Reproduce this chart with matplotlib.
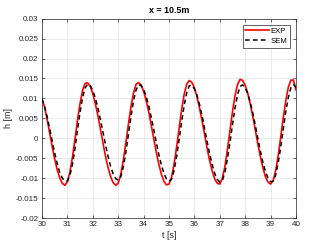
import numpy as np
import matplotlib
matplotlib.use("Agg")
import matplotlib.pyplot as plt

plt.rcParams['font.family'] = ['Liberation Sans', 'DejaVu Sans']

# time axis, 0.1 s steps from 30 to 40
t = np.round(np.arange(300, 401) / 10.0, 1)

h_exp = [
    0.0098, 0.0079, 0.0048, 0.0014, -0.0020, -0.0052, -0.0079, -0.0100, -0.0113, -0.0118,
    -0.0109, -0.0085, -0.0047, -0.0001, 0.0046, 0.0088, 0.0121, 0.0138, 0.0139, 0.0130,
    0.0112, 0.0087, 0.0057, 0.0023, -0.0011, -0.0045, -0.0073, -0.0096, -0.0111, -0.0118,
    -0.0113, -0.0091, -0.0056, -0.0012, 0.0034, 0.0078, 0.0113, 0.0135, 0.0140, 0.0133,
    0.0118, 0.0095, 0.0067, 0.0033, -0.0001, -0.0035, -0.0065, -0.0090, -0.0108, -0.0117,
    -0.0115, -0.0098, -0.0065, -0.0022, 0.0026, 0.0073, 0.0111, 0.0136, 0.0145, 0.0140,
    0.0127, 0.0105, 0.0076, 0.0045, 0.0010, -0.0025, -0.0056, -0.0082, -0.0102, -0.0113,
    -0.0115, -0.0100, -0.0071, -0.0029, 0.0019, 0.0067, 0.0107, 0.0135, 0.0148, 0.0145,
    0.0133, 0.0113, 0.0086, 0.0055, 0.0020, -0.0015, -0.0047, -0.0075, -0.0097, -0.0110,
    -0.0115, -0.0106, -0.0081, -0.0043, 0.0004, 0.0052, 0.0095, 0.0129, 0.0146, 0.0146,
    0.0121,
]

# SEM simulation
h_sem = [
    0.0099, 0.0080, 0.0055, 0.0025, -0.0006, -0.0037, -0.0064, -0.0086, -0.0100, -0.0107,
    -0.0107, -0.0093, -0.0065, -0.0025, 0.0021, 0.0066, 0.0103, 0.0127, 0.0136, 0.0132,
    0.0120, 0.0101, 0.0076, 0.0047, 0.0016, -0.0016, -0.0045, -0.0070, -0.0089, -0.0101,
    -0.0105, -0.0097, -0.0072, -0.0036, 0.0008, 0.0053, 0.0093, 0.0121, 0.0134, 0.0133,
    0.0123, 0.0105, 0.0082, 0.0053, 0.0022, -0.0010, -0.0041, -0.0067, -0.0088, -0.0102,
    -0.0108, -0.0103, -0.0081, -0.0046, -0.0003, 0.0042, 0.0084, 0.0115, 0.0132, 0.0133,
    0.0124, 0.0108, 0.0085, 0.0057, 0.0025, -0.0008, -0.0039, -0.0066, -0.0088, -0.0103,
    -0.0110, -0.0106, -0.0086, -0.0052, -0.0011, 0.0035, 0.0076, 0.0110, 0.0130, 0.0134,
    0.0127, 0.0112, 0.0090, 0.0063, 0.0032, -0.0001, -0.0033, -0.0061, -0.0084, -0.0100,
    -0.0109, -0.0108, -0.0092, -0.0061, -0.0021, 0.0024, 0.0068, 0.0103, 0.0127, 0.0135,
    0.0128,
]

xticks = list(range(30, 41))
yticks = [-0.02, -0.015, -0.01, -0.005, 0, 0.005, 0.01, 0.015, 0.02, 0.025, 0.03]
ytick_labels = ['-0.02', '-0.015', '-0.01', '-0.005', '0', '0.005', '0.01',
                '0.015', '0.02', '0.025', '0.03']

ax_col = '#262626'

fig = plt.figure(figsize=(3.27, 2.45), dpi=100)
ax = fig.add_axes([0.1284, 0.1102, 0.7768, 0.8135])

ax.plot(t, h_exp, color='#ff0000', linewidth=1.2, label='EXP')
ax.plot(t, h_sem, color='black', linestyle=(0, (3, 2.2)), linewidth=1.1, label='SEM')

ax.set_xlim(30, 40)
ax.set_ylim(-0.02, 0.03)
ax.set_xticks(xticks)
ax.set_yticks(yticks)
ax.set_yticklabels(ytick_labels)
ax.grid(True, color='#e3e3e3', linewidth=0.5)
ax.set_axisbelow(True)

ax.tick_params(direction='in', length=2.5, width=0.5, top=True, right=True,
               labelsize=5.8, colors=ax_col, pad=2.5)
for s in ax.spines.values():
    s.set_color(ax_col)
    s.set_linewidth(0.5)

ax.set_title('x = 10.5m', fontsize=6.4, fontweight='bold', pad=4)
ax.set_xlabel('t [s]', fontsize=6.4, color=ax_col, labelpad=1.5)
ax.set_ylabel('h [m]', fontsize=6.4, color=ax_col, labelpad=2)

leg = ax.legend(loc='upper right', fontsize=5.6, handlelength=3.0, handletextpad=0.2,
                borderpad=0.35, labelspacing=0.3, fancybox=False, framealpha=1,
                borderaxespad=0.8)
leg.get_frame().set_edgecolor(ax_col)
leg.get_frame().set_linewidth(0.5)

fig.savefig('out.png', dpi=100)
